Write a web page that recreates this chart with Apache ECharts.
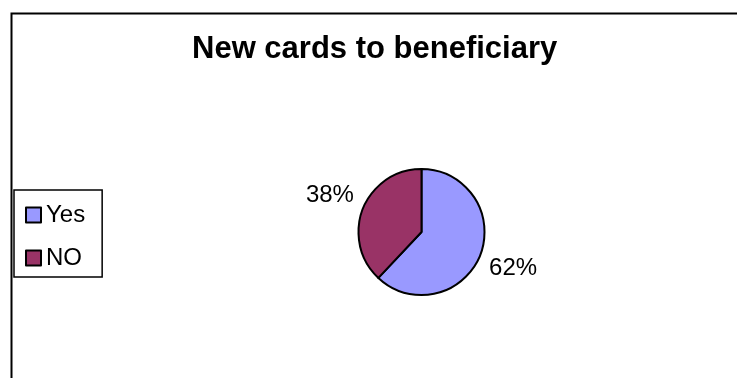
<!DOCTYPE html>
<html>
<head>
<meta charset="utf-8">
<title>New cards to beneficiary</title>
<script src="https://cdn.jsdelivr.net/npm/echarts@6/dist/echarts.min.js"></script>
<style>
  html, body { margin: 0; padding: 0; background: #ffffff; }
  #chart { width: 737px; height: 378px; }
</style>
</head>
<body>
<div id="chart"></div>
<script>
// Survey answers: share of beneficiaries who received new cards
const categories = ['Yes', 'NO'];
const shares = [62, 38];
const sliceColors = ['#9999FF', '#993366'];

const FONT = '"Liberation Sans", Arial, sans-serif';

const pieData = categories.map((name, i) => ({
  name: name,
  value: shares[i],
  itemStyle: { color: sliceColors[i] }
}));

const chart = echarts.init(document.getElementById('chart'), null, { renderer: 'canvas' });

chart.setOption({
  backgroundColor: '#ffffff',
  animation: false,
  title: {
    text: 'New cards to beneficiary',
    left: 192,
    top: 34,
    padding: 0,
    textStyle: {
      fontFamily: FONT,
      fontSize: 31,
      fontWeight: 'bold',
      color: '#000000',
      lineHeight: 30
    }
  },
  legend: {
    data: categories,
    orient: 'vertical',
    left: 14,
    top: 190,
    padding: [13, 17, 7, 11],
    itemGap: 19,
    itemWidth: 15,
    itemHeight: 15,
    itemTextGap: 6,
    icon: 'rect',
    backgroundColor: '#ffffff',
    borderColor: '#000000',
    borderWidth: 1.5,
    borderRadius: 0,
    selectedMode: false,
    textStyle: {
      fontFamily: FONT,
      fontSize: 24,
      lineHeight: 24,
      color: '#000000'
    }
  },
  graphic: [{
    // frame of the chart area (top and left edges)
    type: 'rect',
    left: 9,
    top: 11,
    shape: { width: 760, height: 400 },
    style: { fill: 'none', stroke: '#000000', lineWidth: 2 },
    silent: true
  }],
  series: [
    {
      name: 'New cards',
      type: 'pie',
      center: [421.5, 232],
      radius: 63,
      startAngle: 90,
      clockwise: true,
      avoidLabelOverlap: false,
      label: { show: false },
      labelLine: { show: false },
      itemStyle: { borderColor: '#000000', borderWidth: 2 },
      emphasis: { disabled: true },
      data: pieData
    },
    {
      // transparent ring carrying the percentage labels just outside the pie
      name: 'Labels',
      type: 'pie',
      center: [421.5, 232],
      radius: [63, 128],
      startAngle: 90,
      clockwise: true,
      silent: true,
      avoidLabelOverlap: false,
      itemStyle: { color: 'rgba(0,0,0,0)', borderWidth: 0 },
      emphasis: { disabled: true },
      labelLine: { show: false },
      label: {
        show: true,
        position: 'inside',
        formatter: p => p.value + '%',
        fontFamily: FONT,
        fontSize: 24,
        color: '#000000'
      },
      data: categories.map((name, i) => ({ name: name, value: shares[i] }))
    }
  ]
});
</script>
</body>
</html>
